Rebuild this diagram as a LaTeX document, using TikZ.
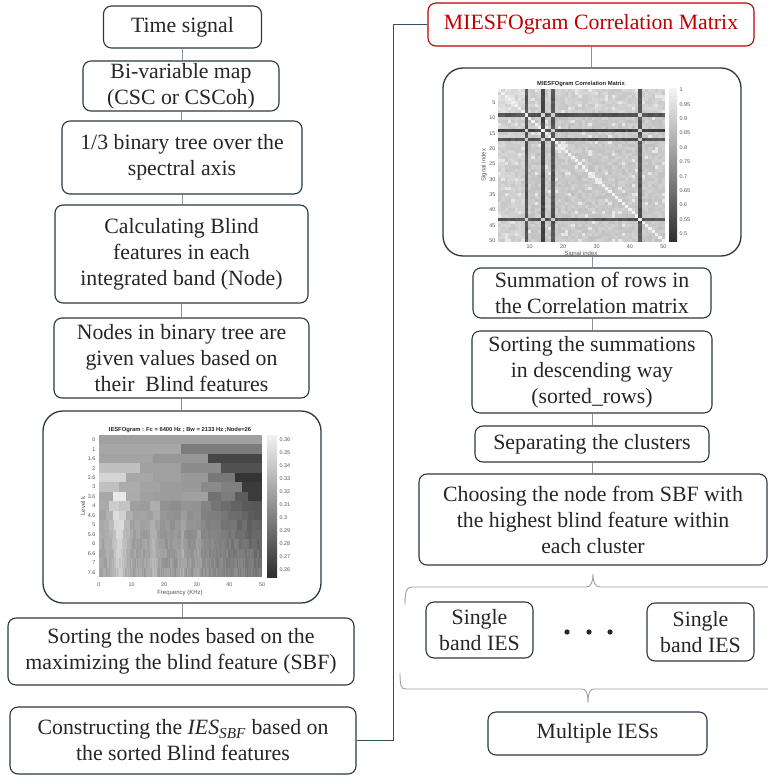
\documentclass[tikz,border=0pt]{standalone}
\usepackage{fontspec}
\setmainfont{Liberation Serif}
\newfontfamily\plotfont{Liberation Sans}
\usetikzlibrary{calc}
\definecolor{boxline}{HTML}{2B3940}
\definecolor{conn}{HTML}{8C9296}
\definecolor{linkc}{HTML}{2F5461}
\definecolor{redc}{HTML}{C00000}
\definecolor{ticktext}{HTML}{555555}
\tikzset{
  flow/.style={draw=boxline, line width=1.1pt, rounded corners=8pt, align=center, inner sep=0pt,
    font=\fontsize{21.8}{26}\selectfont, text=black!85},
  imgbox/.style={draw=boxline, line width=1.3pt, rounded corners=20pt, inner sep=0pt},
  conline/.style={draw=conn, line width=0.8pt},
  linkline/.style={draw=linkc, line width=1.6pt},
  bracel/.style={draw=gray!75, line width=0.9pt},
  tick/.style={font=\plotfont\fontsize{5.4}{6}\selectfont, text=ticktext, inner sep=0.5pt},
  axlab/.style={font=\plotfont\fontsize{6}{7}\selectfont, text=ticktext, inner sep=0pt},
  ptitle/.style={font=\plotfont\bfseries\fontsize{5.8}{7}\selectfont, text=black!85, inner sep=0pt},
}
\begin{document}
\begin{tikzpicture}[x=1pt,y=-1pt]
\fill[white] (0,0) rectangle (768,775);
\useasboundingbox (0,0) rectangle (768,775);

% ---------------- left column ----------------
\node[flow, minimum width=158pt, minimum height=42pt] (time) at (182.5,27) {Time signal};
\node[flow, minimum width=196pt, minimum height=50pt] (bivar) at (181,86) {Bi-variable map\\(CSC or CSCoh)};
\node[flow, minimum width=240pt, minimum height=73pt] (binary) at (182,157.5) {1/3 binary tree over the\\spectral axis};
\node[flow, minimum width=253pt, minimum height=98pt] (calc) at (181.5,254) {Calculating Blind\\features in each\\integrated band (Node)};
\node[flow, minimum width=255pt, minimum height=80pt] (nodesbox) at (181.5,358) {Nodes in binary tree are\\given values based on\\their\ \ Blind features};
\node[imgbox, minimum width=278pt, minimum height=192pt] (iesimg) at (182,507) {};
\node[flow, minimum width=346pt, minimum height=67pt] (sortnodes) at (181,651.5) {Sorting the nodes based on the\\maximizing the blind feature (SBF)};
\node[flow, minimum width=346pt, minimum height=67pt] (construct) at (183,740.5) {Constructing the \textit{IES}\textsubscript{\textit{SBF}} based on\\the sorted Blind features};

% ---------------- right column ----------------
\node[flow, draw=redc, text=redc, minimum width=326pt, minimum height=43pt] (miesf) at (591,24.5) {MIESFOgram Correlation Matrix};
\node[imgbox, minimum width=298pt, minimum height=188pt] (matimg) at (592,162) {};
\node[flow, minimum width=238pt, minimum height=50pt] (summ) at (592,293) {Summation of rows in\\the Correlation matrix};
\node[flow, minimum width=240pt, minimum height=82pt] (sortsum) at (592,372) {Sorting the summations\\in descending way\\(sorted\_rows)};
\node[flow, minimum width=234pt, minimum height=36pt] (sep) at (592,444) {Separating the clusters};
\node[flow, minimum width=348pt, minimum height=91pt] (choose) at (593,519.5) {Choosing the node from SBF with\\the highest blind feature within\\each cluster};
\node[flow, minimum width=107pt, minimum height=56pt] (single1) at (479.5,630) {Single\\band IES};
\node[flow, minimum width=107pt, minimum height=58pt] (single2) at (700.5,632) {Single\\band IES};
\node[flow, minimum width=219pt, minimum height=43pt] (multi) at (597.5,733.5) {Multiple IESs};

\foreach \px in {567,589,610}{\fill[black!85] (\px,632) circle (2.6pt);}

% ---------------- connectors ----------------
\draw[conline] (time.south) -- (time.south |- bivar.north);
\draw[conline] (bivar.south) -- (bivar.south |- binary.north);
\draw[conline] (binary.south) -- (binary.south |- calc.north);
\draw[conline] (calc.south) -- (calc.south |- nodesbox.north);
\draw[conline] (nodesbox.south) -- (nodesbox.south |- iesimg.north);
\draw[conline] (iesimg.south) -- (iesimg.south |- sortnodes.north);
\draw[conline] (miesf.south) -- (miesf.south |- matimg.north);
\draw[conline] (matimg.south) -- (matimg.south |- summ.north);
\draw[conline] (summ.south) -- (summ.south |- sortsum.north);
\draw[conline] (sortsum.south) -- (sortsum.south |- sep.north);
\draw[conline] (sep.south) -- (sep.south |- choose.north);
\draw[linkline] (construct.east) -- ++(37,0) |- (miesf.west);

% braces
\draw[bracel] (405,605) .. controls (405,592) and (406,587) .. (412,587) -- (586,587)
  .. controls (591,587) and (593,582) .. (593,574) .. controls (593,582) and (595,587) .. (600,587) -- (768,587);
\draw[bracel] (400,673) .. controls (400,686) and (401,689) .. (406,689) -- (582,689)
  .. controls (586,689) and (588,693) .. (588,703) .. controls (588,693) and (590,689) .. (594,689) -- (768,689);

% ---------------- IESFOgram plot ----------------
\begin{scope}[shift={(99,435)}]
\pgfmathsetseed{5}
\foreach \r/\n/\vals in {0/1/{0.318}, 1/2/{0.322,0.298}, 2/3/{0.320,0.313,0.268},
  3/4/{0.336,0.318,0.307,0.274}, 4/6/{0.347,0.322,0.318,0.314,0.296,0.258},
  5/8/{0.336,0.325,0.320,0.316,0.314,0.306,0.300,0.262},
  6/12/{0.322,0.358,0.324,0.318,0.316,0.316,0.318,0.318,0.292,0.298,0.280,0.262}}{
  \foreach \v [count=\k from 0] in \vals {
    \pgfmathsetmacro\gg{min(97,max(0,18+77*(\v-0.2546)/0.1092))}
    \fill[white!\gg!black] ({\k*50/\n*3.26},{\r*9.467}) rectangle ({(\k+1)*50/\n*3.26+0.15},{(\r+1)*9.467+0.15});
  }
}
\foreach \r in {7,...,14}{
  \pgfmathtruncatemacro\n{{1,2,3,4,6,8,12,16,24,32,48,64,96,128,192}[\r]}
  \pgfmathsetmacro\bw{50/\n}
  \pgfmathsetmacro\pk{0.042-0.003*(\r-7)}
  \pgfmathsetmacro\dk{0.048*(1-0.07*(\r-7))}
  \foreach \k in {1,...,\n}{
    \pgfmathsetmacro\fc{(\k-0.5)*\bw}
    \pgfmathsetmacro\La{1/(1+((\fc-6.2)/2.6)^2)}
    \pgfmathsetmacro\Lb{1/(1+((\fc-17)/1.4)^2)}
    \pgfmathsetmacro\Lc{1/(1+((\fc-25.5)/1.4)^2)}
    \pgfmathsetmacro\Ld{1/(1+((\fc-30.5)/1.4)^2)}
    \pgfmathsetmacro\v{0.320-\dk*(\fc/50)^2+\pk*\La*\La+0.012*\Lb*\Lb+0.012*\Lc*\Lc+0.009*\Ld*\Ld+(0.003+0.0006*(\r-7))*rand}
    \pgfmathsetmacro\gg{min(97,max(0,18+77*(\v-0.2546)/0.1092))}
    \fill[white!\gg!black] ({(\k-1)*\bw*3.26},{\r*9.467}) rectangle ({\k*\bw*3.26+0.15},{(\r+1)*9.467+0.15});
  }
}
\end{scope}
\shade[top color=white!95!black, bottom color=white!18!black] (267,435) rectangle (277,577);
\node[ptitle] (iestitle) at (180,430) {IESFOgram : Fc = 6400 Hz ; Bw = 2133 Hz ;Node=26};
\foreach \lab [count=\r from 0] in {0,1,1.6,2,2.6,3,3.6,4,4.6,5,5.6,6,6.6,7,7.6}{
  \node[tick, anchor=east] at (96,{435+(\r+0.5)*9.467}) {\lab};
}
\foreach \f in {0,10,20,30,40,50}{
  \node[tick] at ({99+\f*3.26},585) {\f};
}
\foreach \cv in {0.36,0.35,0.34,0.33,0.32,0.31,0.3,0.29,0.28,0.27,0.26}{
  \node[tick, anchor=west] at (279,{435+(0.3638-\cv)/0.1092*142}) {\cv};
}
\node[axlab] (iesxl) at (180,593) {Frequency (KHz)};
\node[axlab, rotate=90] (iesyl) at (83,506) {Level k};

% ---------------- correlation matrix plot ----------------
\begin{scope}[shift={(498,89)}]
\pgfmathsetseed{12}
\foreach \i in {1,...,50}{
  \pgfmathtruncatemacro\di{(\i==9)+(\i==14)+(\i==17)+(\i==43)}
  \foreach \j in {\i,...,50}{
    \pgfmathtruncatemacro\dj{(\j==9)+(\j==14)+(\j==17)+(\j==43)}
    \pgfmathsetmacro\rnd{rand}
    \pgfmathsetmacro\rb{rnd}
    \ifnum\i=\j
      \def\v{1}
    \else
      \pgfmathtruncatemacro\dd{\di+\dj}
      \ifcase\dd
        \pgfmathtruncatemacro\ul{(\i<9)+(\j<9)}
        \pgfmathtruncatemacro\br{\rb>0.93}
        \pgfmathsetmacro\v{0.89+0.025*\rnd+0.02*\ul}
        \ifnum\br=1 \def\v{0.97}\fi
      \or
        \pgfmathtruncatemacro\fz{(\i==14)+(\j==14)}
        \pgfmathsetmacro\v{0.575+0.03*\rnd-0.04*\fz}
      \or
        \pgfmathsetmacro\v{0.9+0.03*\rnd}
      \fi
    \fi
    \pgfmathsetmacro\gg{min(97,max(0,18+77*(\v-0.472)/0.531))}
    \fill[white!\gg!black] ({(\j-1)*3.34},{(\i-1)*3.06}) rectangle ++(3.44,3.16);
    \fill[white!\gg!black] ({(\i-1)*3.34},{(\j-1)*3.06}) rectangle ++(3.44,3.16);
  }
}
\end{scope}
\shade[top color=white!95!black, bottom color=white!18!black] (669,89) rectangle (677,242);
\node[ptitle] (mattitle) at (581,84.5) {MIESFOgram Correlation Matrix};
\foreach \k in {5,10,...,50}{
  \node[tick, anchor=east] at (496,{89+(\k-0.5)*3.06}) {\k};
}
\foreach \k in {10,20,...,50}{
  \node[tick] at ({498+(\k-0.5)*3.34},247) {\k};
}
\foreach \cv in {1,0.95,0.9,0.85,0.8,0.75,0.7,0.65,0.6,0.55,0.5}{
  \node[tick, anchor=west] at (679,{89+(1.003-\cv)/0.531*153}) {\cv};
}
\node[axlab] (matxl) at (581,253.5) {Signal index};
\node[axlab, rotate=90] (matyl) at (484,165) {Signal index};
\end{tikzpicture}
\end{document}
